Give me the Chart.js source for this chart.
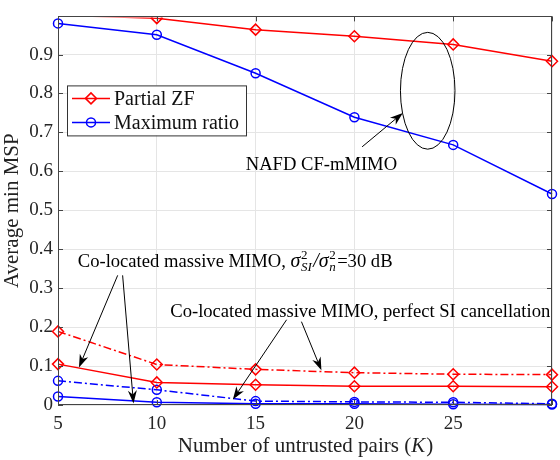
<!DOCTYPE html>
<html>
<head>
<meta charset="utf-8">
<script src="https://cdn.jsdelivr.net/npm/chart.js@4"></script>
<style>
html, body { margin: 0; padding: 0; background: #fff; }
#wrap { width: 560px; height: 460px; }
</style>
</head>
<body>
<div id="wrap"><canvas id="msp" width="560" height="460"></canvas></div>
<script>
// number of untrusted pairs K
var pairs = [5, 10, 15, 20, 25, 30];
var yTicks = [0, 0.1, 0.2, 0.3, 0.4, 0.5, 0.6, 0.7, 0.8, 0.9];
var yMax = 0.998;

// NAFD CF-mMIMO
var cfZF = [1.001, 0.9935, 0.964, 0.947, 0.926, 0.883];
var cfMR = [0.980, 0.951, 0.852, 0.739, 0.668, 0.542];
// co-located, SI/noise = 30 dB
var coZF30 = [0.105, 0.058, 0.052, 0.048, 0.048, 0.047];
var coMR30 = [0.022, 0.007, 0.003, 0.003, 0.002, 0.001];
// co-located, perfect SI cancellation
var coZFp = [0.189, 0.104, 0.0915, 0.083, 0.079, 0.078];
var coMRp = [0.062, 0.039, 0.010, 0.008, 0.007, 0.003];

// annotation anchors, in data units (K, MSP)
var ellipse = {k: 23.71, v: 0.807, rk: 1.38, rv: 0.150};
var arrowsNAFD = [[20.39, 0.663, 22.45, 0.750]];
var arrows30 = [[8.02, 0.333, 6.06, 0.0965], [8.27, 0.333, 8.82, 0.004]];
var arrowsPerf = [[16.57, 0.219, 13.85, 0.014], [17.32, 0.214, 18.33, 0.089]];

var RED = '#ff0000', BLUE = '#0000ff';
var SERIF = '"Liberation Serif", "DejaVu Serif", serif';

function pts(vals) {
  return pairs.map(function(k, i){ return {x: k, y: vals[i]}; });
}

function series(label, vals, col, shape, dashed) {
  var r = shape == 'rectRot' ? 5.5 : 4.5;
  return {
    label: label,
    data: pts(vals),
    borderColor: col,
    backgroundColor: 'rgba(0,0,0,0)',
    borderWidth: 1.5,
    borderDash: dashed ? [8, 3, 2, 3] : [],
    pointStyle: shape,
    // like matlab: no marker for points outside the axes
    pointRadius: function(c){ return c.raw && c.raw.y > yMax ? 0 : r; },
    pointBorderWidth: 1.5,
    pointBorderColor: col,
    pointBackgroundColor: 'rgba(0,0,0,0)',
    clip: {left: 10, right: 10, top: -1, bottom: 10},
    tension: 0
  };
}

function arrow(ctx, x1, y1, x2, y2) {
  var a = Math.atan2(y2 - y1, x2 - x1);
  var L = 13, W = 4.5;
  ctx.beginPath();
  ctx.moveTo(x1, y1);
  ctx.lineTo(x2 - Math.cos(a) * 6, y2 - Math.sin(a) * 6);
  ctx.stroke();
  ctx.save();
  ctx.translate(x2, y2);
  ctx.rotate(a);
  ctx.beginPath();
  ctx.moveTo(0, 0);
  ctx.lineTo(-L, -W);
  ctx.lineTo(-L * 0.7, 0);
  ctx.lineTo(-L, W);
  ctx.closePath();
  ctx.fill();
  ctx.restore();
}

var extras = {
  id: 'extras',
  afterDraw: function(chart) {
    var ctx = chart.ctx, xs = chart.scales.x, ys = chart.scales.y, ca = chart.chartArea;
    var X = function(k){ return xs.getPixelForValue(k); };
    var Y = function(v){ return ys.getPixelForValue(v); };
    ctx.save();

    // box + inward ticks (matlab style)
    ctx.strokeStyle = '#444';
    ctx.lineWidth = 1;
    ctx.strokeRect(Math.round(ca.left) + 0.5, Math.round(ca.top) + 0.5,
                   Math.round(ca.right - ca.left) - 1, Math.round(ca.bottom - ca.top) - 1);
    ctx.beginPath();
    yTicks.forEach(function(v){
      var y = Math.round(Y(v)) + 0.5;
      ctx.moveTo(ca.left, y); ctx.lineTo(ca.left + 5, y);
      ctx.moveTo(ca.right, y); ctx.lineTo(ca.right - 5, y);
    });
    pairs.forEach(function(k){
      var x = Math.round(X(k)) + 0.5;
      ctx.moveTo(x, ca.bottom); ctx.lineTo(x, ca.bottom - 5);
      ctx.moveTo(x, ca.top); ctx.lineTo(x, ca.top + 5);
    });
    ctx.stroke();

    // legend
    var lx = ca.left + 9, ly = ca.top + 69;
    ctx.fillStyle = '#fff';
    ctx.fillRect(lx, ly, 179, 50);
    ctx.strokeStyle = '#333';
    ctx.strokeRect(lx + 0.5, ly + 0.5, 179, 50);
    ctx.font = '20px ' + SERIF;
    ctx.textBaseline = 'middle';
    ctx.textAlign = 'left';
    [0, 1].forEach(function(i){
      var ds = chart.data.datasets[i];
      var ry = ly + 13 + i * 24;
      var r = ds.pointStyle == 'rectRot' ? 5.5 : 4.5;
      ctx.strokeStyle = ds.borderColor;
      ctx.lineWidth = 1.5;
      ctx.beginPath();
      ctx.moveTo(lx + 5, ry); ctx.lineTo(lx + 43, ry);
      ctx.stroke();
      ctx.fillStyle = 'rgba(0,0,0,0)';
      Chart.helpers.drawPoint(ctx, {pointStyle: ds.pointStyle, radius: r, borderWidth: 1.5}, lx + 24, ry);
      ctx.fillStyle = '#111';
      ctx.fillText(ds.label, lx + 47, ry + 1);
    });

    // annotations
    ctx.strokeStyle = '#000';
    ctx.fillStyle = '#000';
    ctx.lineWidth = 1;
    ctx.beginPath();
    ctx.ellipse(X(ellipse.k), Y(ellipse.v), X(ellipse.k + ellipse.rk) - X(ellipse.k),
                Y(ellipse.v) - Y(ellipse.v + ellipse.rv), 0, 0, Math.PI * 2);
    ctx.stroke();
    arrowsNAFD.concat(arrows30, arrowsPerf).forEach(function(a){
      arrow(ctx, X(a[0]), Y(a[1]), X(a[2]), Y(a[3]));
    });

    var F = '18.6px ';
    ctx.font = F + SERIF;
    ctx.textBaseline = 'alphabetic';
    ctx.fillText('NAFD CF-mMIMO', X(14.5), Y(0.620) + 6);

    // co-located, 30 dB
    var tx = X(6.0), ty = Y(0.371) + 6;
    var s = 'Co-located massive MIMO, ';
    ctx.fillText(s, tx, ty);
    tx += ctx.measureText(s).width;
    ctx.font = 'italic 20px ' + SERIF;
    ctx.fillText('\u03c3', tx, ty);
    var w = ctx.measureText('\u03c3').width;
    ctx.font = '13px ' + SERIF;
    ctx.fillText('2', tx + w + 0.5, ty - 8);
    ctx.font = 'italic 13px ' + SERIF;
    ctx.fillText('SI', tx + w + 0.5, ty + 4);
    tx += w + ctx.measureText('SI').width + 2;
    ctx.font = 'italic 20px ' + SERIF;
    ctx.fillText('/\u03c3', tx, ty);
    tx += ctx.measureText('/\u03c3').width;
    ctx.font = '13px ' + SERIF;
    ctx.fillText('2', tx + 0.5, ty - 8);
    ctx.font = 'italic 13px ' + SERIF;
    ctx.fillText('n', tx + 0.5, ty + 4);
    tx += ctx.measureText('n').width + 2;
    ctx.font = F + SERIF;
    ctx.fillText('=30 dB', tx, ty);

    ctx.fillText('Co-located massive MIMO, perfect SI cancellation', X(10.68), Y(0.241) + 6);

    // x axis title with italic K
    var p1 = 'Number of untrusted pairs (', p3 = ')';
    ctx.font = 'italic 21px ' + SERIF;
    var wk = ctx.measureText('K').width;
    ctx.font = '21px ' + SERIF;
    var w1 = ctx.measureText(p1).width, w3 = ctx.measureText(p3).width;
    var sx = (ca.left + ca.right) / 2 - (w1 + wk + w3) / 2, sy = 452;
    ctx.fillStyle = '#222';
    ctx.fillText(p1, sx, sy);
    ctx.font = 'italic 21px ' + SERIF;
    ctx.fillText('K', sx + w1, sy);
    ctx.font = '21px ' + SERIF;
    ctx.fillText(p3, sx + w1 + wk + 1, sy);

    ctx.restore();
  }
};

new Chart(document.getElementById('msp').getContext('2d'), {
  type: 'line',
  data: {
    datasets: [
      series('Partial ZF', cfZF, RED, 'rectRot', false),
      series('Maximum ratio', cfMR, BLUE, 'circle', false),
      series('co ZF 30dB', coZF30, RED, 'rectRot', false),
      series('co MR 30dB', coMR30, BLUE, 'circle', false),
      series('co ZF perfect', coZFp, RED, 'rectRot', true),
      series('co MR perfect', coMRp, BLUE, 'circle', true)
    ]
  },
  options: {
    responsive: false,
    animation: false,
    layout: { padding: { top: 5, right: 5, left: 0, bottom: 0 } },
    plugins: { legend: { display: false }, tooltip: { enabled: false } },
    scales: {
      x: {
        type: 'linear', min: 5, max: 30,
        afterBuildTicks: function(s){ s.ticks = pairs.map(function(v){ return {value: v}; }); },
        afterFit: function(s){ s.height = 55; },
        ticks: {
          color: '#262626', font: { family: SERIF, size: 19 }, padding: 8,
          callback: function(v){ return v == 30 ? '' : v; }
        },
        grid: { color: '#e5e5e5', drawTicks: false },
        border: { display: false }
      },
      y: {
        min: 0, max: yMax,
        afterBuildTicks: function(s){ s.ticks = yTicks.map(function(v){ return {value: v}; }); },
        afterFit: function(s){ s.width = 58; },
        ticks: {
          color: '#262626', font: { family: SERIF, size: 19 }, padding: 5,
          callback: function(v){ return v == 0 ? '0' : v.toFixed(1); }
        },
        title: { display: true, text: 'Average min MSP', color: '#222', font: { family: SERIF, size: 21 }, padding: 0 },
        grid: { color: '#e5e5e5', drawTicks: false },
        border: { display: false }
      }
    }
  },
  plugins: [extras]
});
</script>
</body>
</html>
